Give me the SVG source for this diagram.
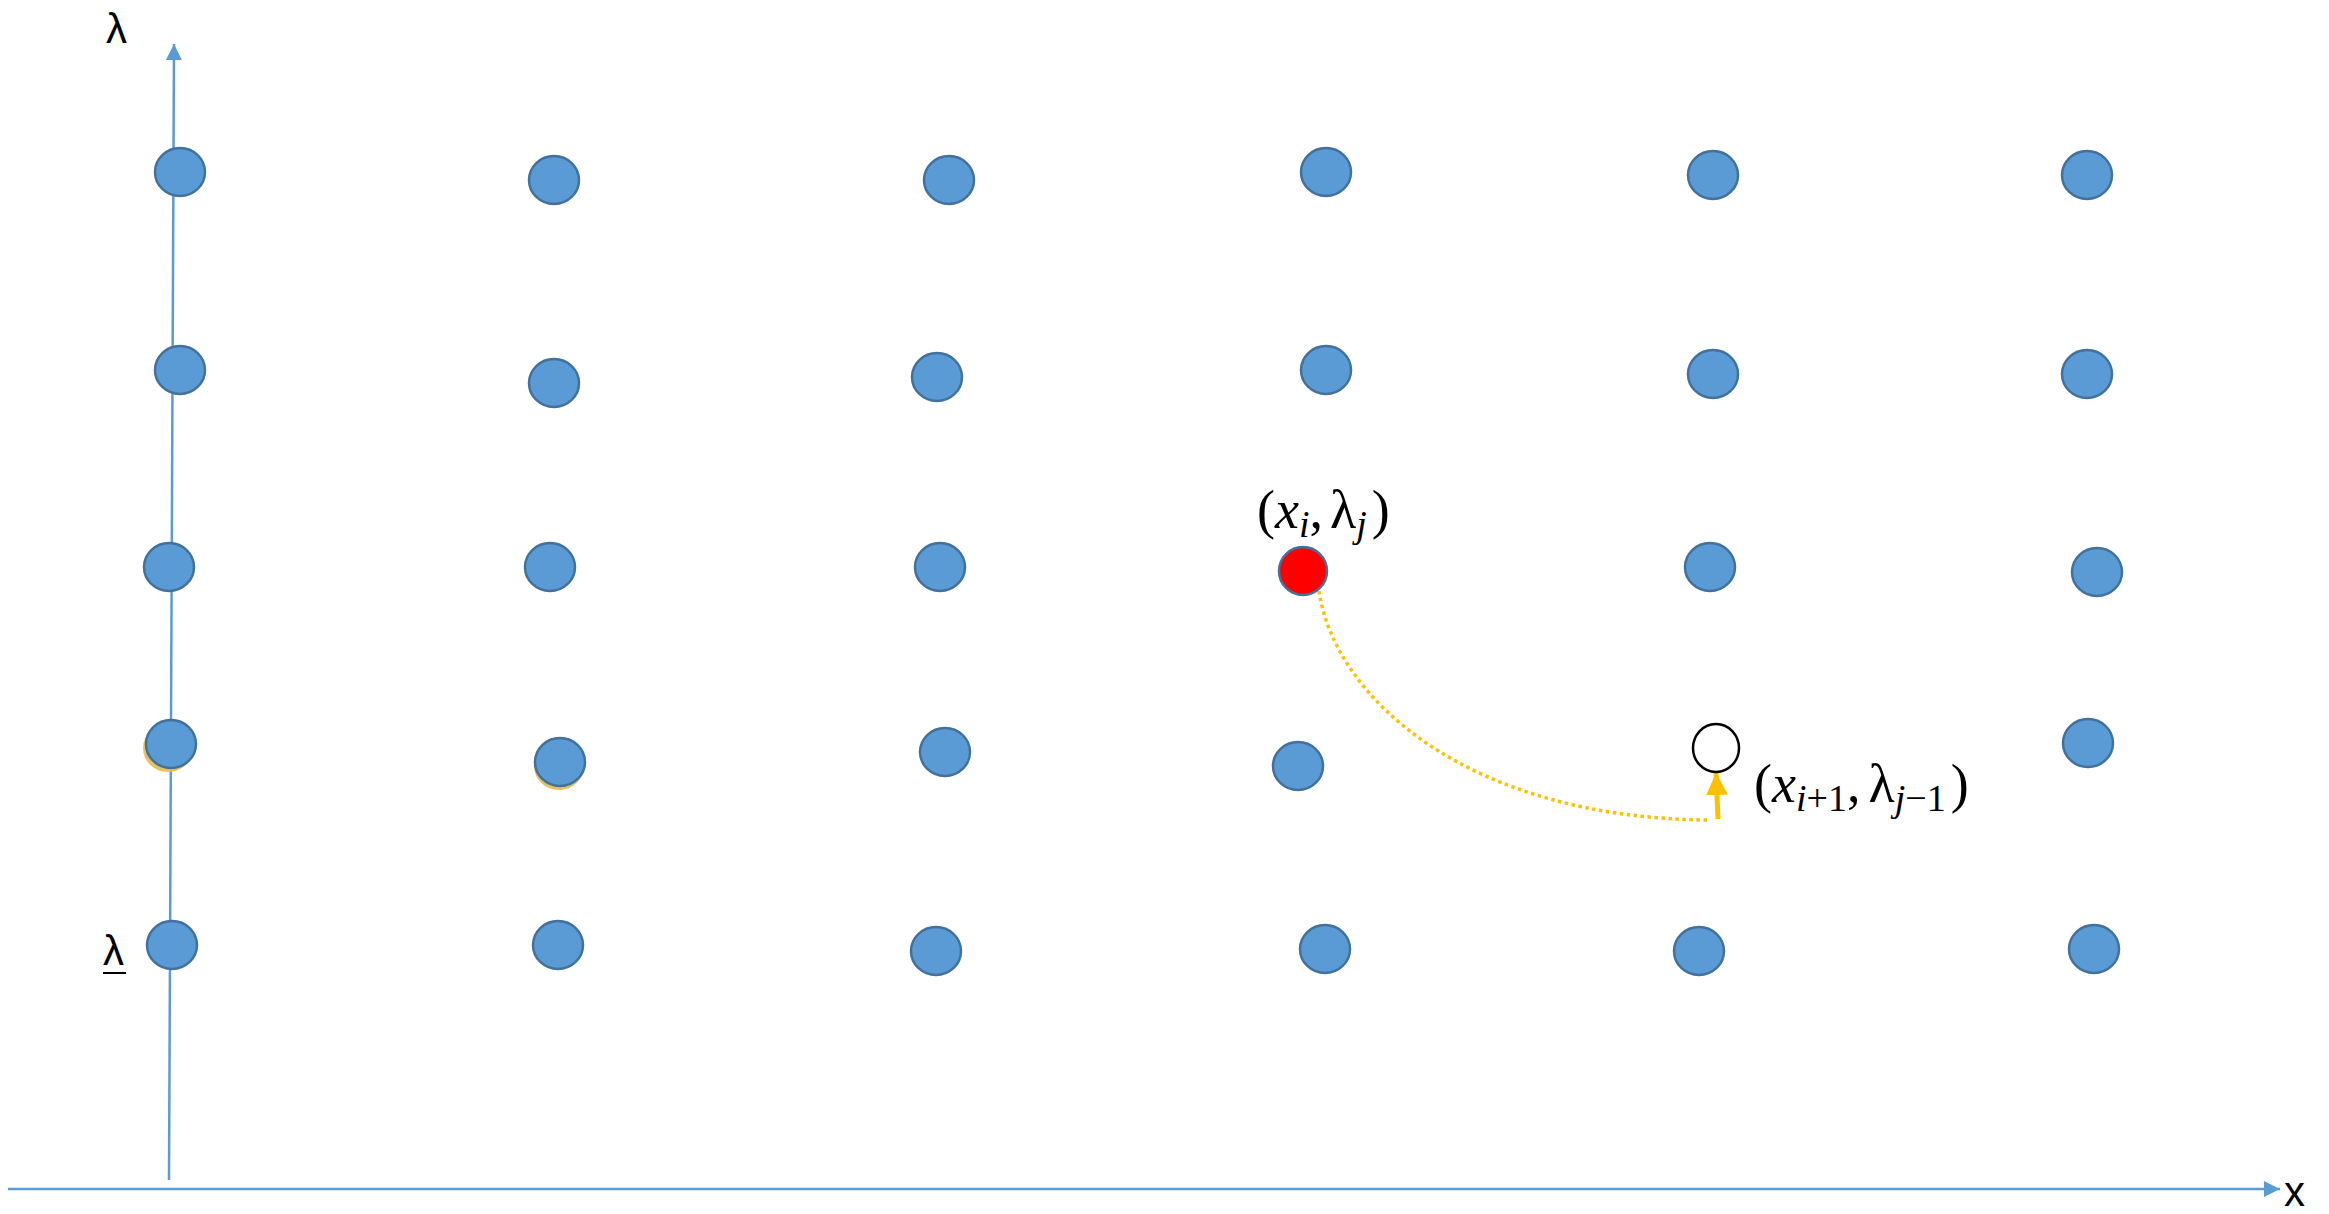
<svg xmlns="http://www.w3.org/2000/svg" width="2329" height="1214" viewBox="0 0 2329 1214">
<style>
.pt{fill:#5B9BD5;stroke:#41719C;stroke-width:2.5}
.ax{stroke:#5B9BD5;stroke-width:2.5;fill:none}
.lbl{font-family:"Liberation Sans",Arial,sans-serif;font-size:42px;fill:#000}
.math{font-family:"Liberation Serif","DejaVu Serif",serif;font-style:italic;font-size:54px;fill:#000}
.up{font-style:normal}
.sub{font-size:38px}
</style>
<defs>
<marker id="ah" viewBox="0 0 10 10" refX="10" refY="5" markerWidth="6.5" markerHeight="6.5" markerUnits="strokeWidth" orient="auto">
<path d="M0,0 L10,5 L0,10 z" fill="#5B9BD5"/>
</marker>
<marker id="ya" viewBox="0 0 10 10" refX="10" refY="5" markerWidth="4.4" markerHeight="4.4" markerUnits="strokeWidth" orient="auto">
<path d="M0,0 L10,5 L0,10 z" fill="#FFC000"/>
</marker>
</defs>
<g id="axes">
<line class="ax" x1="169" y1="1180" x2="174" y2="44" marker-end="url(#ah)"/>
<line class="ax" x1="8" y1="1189" x2="2280" y2="1189" stroke-width="3" marker-end="url(#ah)"/>
<text class="lbl" x="106" y="43">λ</text>
<text class="lbl" x="2284" y="1206" font-size="38">x</text>
<text class="lbl" x="103" y="965">λ</text>
<line x1="103" y1="973" x2="126" y2="973" stroke="#000" stroke-width="2"/>
</g>
<g id="connectors">
<path d="M1319,591 C1335,700 1470,818 1708,820" fill="none" stroke="#FFC000" stroke-width="3.5" stroke-dasharray="3.5 3.5"/>
<line x1="1718" y1="819" x2="1716" y2="773" stroke="#FFC000" stroke-width="5" marker-end="url(#ya)"/>
</g>
<g id="nodes">
<g id="r1">
<ellipse class="pt" cx="180" cy="172" rx="25" ry="24"/>
<ellipse class="pt" cx="554" cy="180" rx="25" ry="24"/>
<ellipse class="pt" cx="949" cy="180" rx="25" ry="24"/>
<ellipse class="pt" cx="1326" cy="172" rx="25" ry="24"/>
<ellipse class="pt" cx="1713" cy="175" rx="25" ry="24"/>
<ellipse class="pt" cx="2087" cy="175" rx="25" ry="24"/>
</g>
<g id="r2">
<ellipse class="pt" cx="180" cy="370" rx="25" ry="24"/>
<ellipse class="pt" cx="554" cy="383" rx="25" ry="24"/>
<ellipse class="pt" cx="937" cy="377" rx="25" ry="24"/>
<ellipse class="pt" cx="1326" cy="370" rx="25" ry="24"/>
<ellipse class="pt" cx="1713" cy="374" rx="25" ry="24"/>
<ellipse class="pt" cx="2087" cy="374" rx="25" ry="24"/>
</g>
<g id="r3">
<ellipse class="pt" cx="169" cy="567" rx="25" ry="24"/>
<ellipse class="pt" cx="550" cy="567" rx="25" ry="24"/>
<ellipse class="pt" cx="940" cy="567" rx="25" ry="24"/>
<ellipse class="pt" cx="1710" cy="567" rx="25" ry="24"/>
<ellipse class="pt" cx="2097" cy="572" rx="25" ry="24"/>
</g>
<g id="r4">
<ellipse cx="168" cy="748" rx="25" ry="24" fill="#E8C060"/>
<ellipse class="pt" cx="171" cy="744" rx="25" ry="24"/>
<ellipse cx="559" cy="766" rx="25" ry="24" fill="#E8C060"/>
<ellipse class="pt" cx="560" cy="762" rx="25" ry="24"/>
<ellipse class="pt" cx="945" cy="752" rx="25" ry="24"/>
<ellipse class="pt" cx="1298" cy="766" rx="25" ry="24"/>
<ellipse class="pt" cx="2088" cy="743" rx="25" ry="24"/>
</g>
<g id="r5">
<ellipse class="pt" cx="172" cy="945" rx="25" ry="24"/>
<ellipse class="pt" cx="558" cy="945" rx="25" ry="24"/>
<ellipse class="pt" cx="936" cy="951" rx="25" ry="24"/>
<ellipse class="pt" cx="1325" cy="949" rx="25" ry="24"/>
<ellipse class="pt" cx="1699" cy="951" rx="25" ry="24"/>
<ellipse class="pt" cx="2094" cy="949" rx="25" ry="24"/>
</g>
<g id="current">
<circle cx="1303" cy="571" r="24" fill="#FF0000" stroke="#41719C" stroke-width="2.5"/>
<text class="math" x="1257" y="528"><tspan class="up">(</tspan>x<tspan class="sub" dy="9">i</tspan><tspan class="up" dy="-9">,</tspan><tspan class="up" dx="7">λ</tspan><tspan class="sub" dy="9">j</tspan><tspan class="up" dy="-9" dx="5">)</tspan></text>
</g>
<g id="next">
<ellipse cx="1716" cy="748" rx="23" ry="24" fill="#FFFFFF" stroke="#000" stroke-width="2.5"/>
<text class="math" x="1754" y="802"><tspan class="up">(</tspan>x<tspan class="sub" dy="9">i</tspan><tspan class="sub up">+1</tspan><tspan class="up" dy="-9">,</tspan><tspan class="up" dx="8">λ</tspan><tspan class="sub" dy="9">j</tspan><tspan class="sub up">−1</tspan><tspan class="up" dy="-9" dx="5">)</tspan></text>
</g>
</g>
</svg>
